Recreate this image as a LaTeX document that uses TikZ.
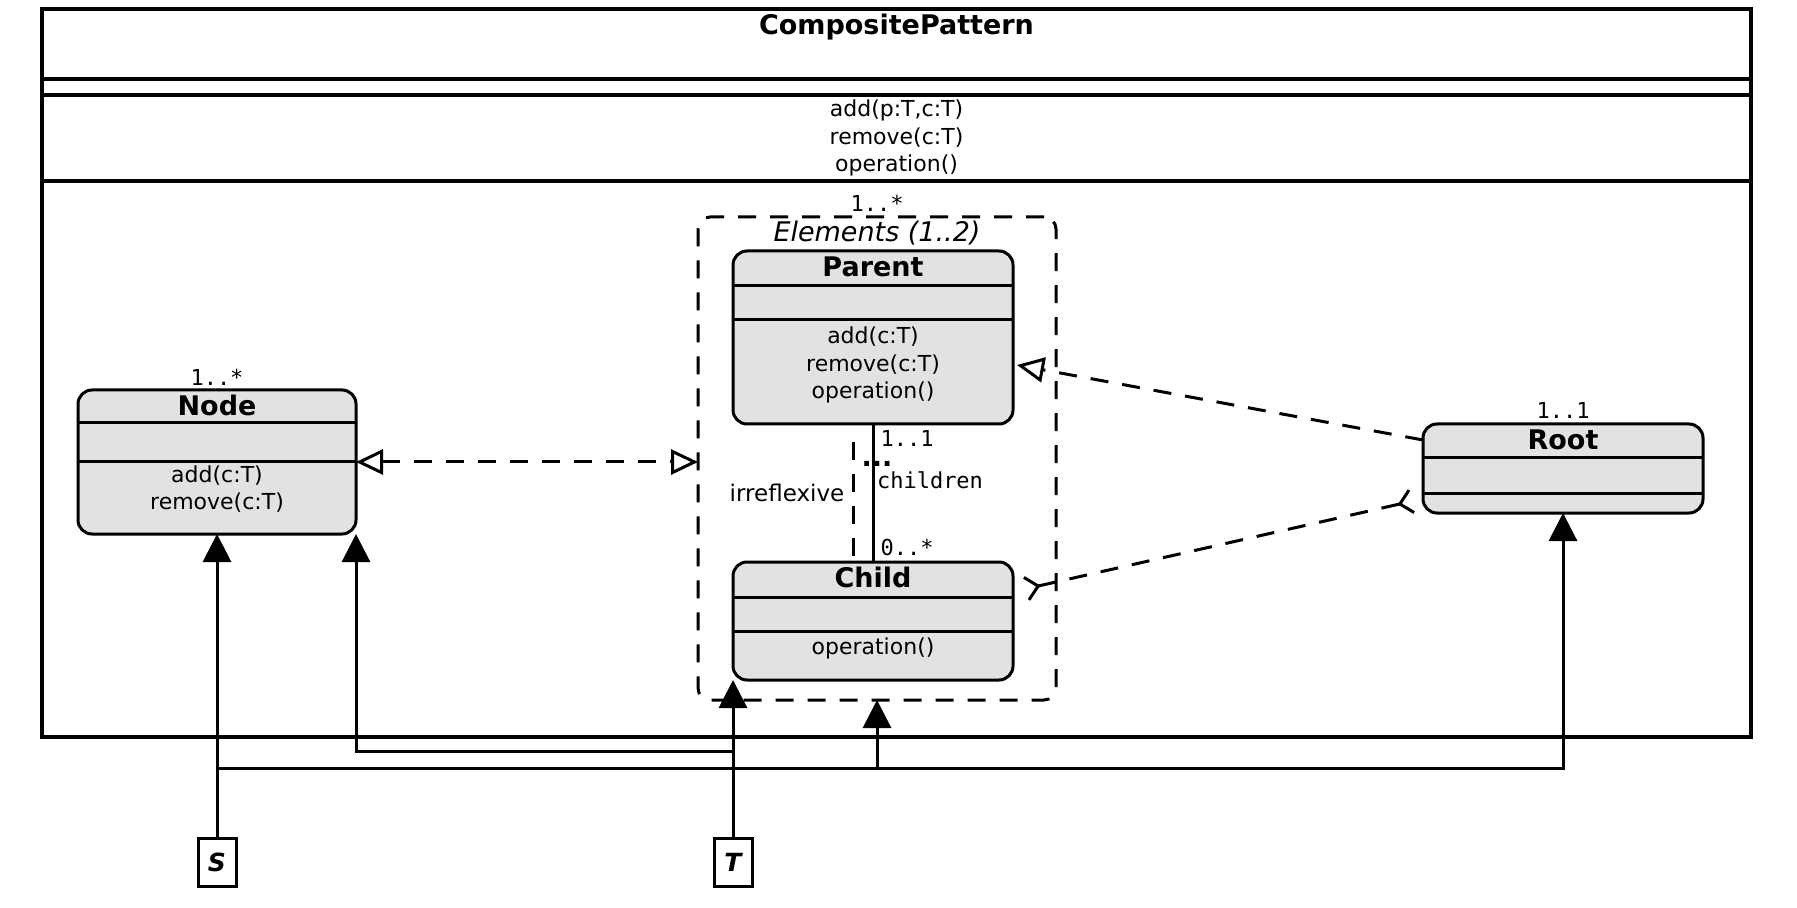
\documentclass[tikz,border=0pt]{standalone}
\usepackage{fontspec}
\setmainfont{DejaVu Sans}
\setmonofont{DejaVu Sans Mono}
\usetikzlibrary{arrows.meta}
\definecolor{classfill}{RGB}{226,226,226}
\begin{document}
\begin{tikzpicture}[x=0.5pt,y=-0.5pt,
  every node/.style={inner sep=0pt, outer sep=0pt},
  classbox/.style={draw, line width=1.5pt, fill=classfill, rounded corners=7pt},
  comp/.style={line width=1.5pt},
  ctitle/.style={font=\fontsize{13.5pt}{16pt}\selectfont\bfseries},
  meth/.style={font=\fontsize{11pt}{13.75pt}\selectfont, align=center},
  mult/.style={font=\fontsize{11pt}{13pt}\selectfont\ttfamily},
  conn/.style={line width=1.5pt},
  dashline/.style={line width=1.5pt, dash pattern=on 9pt off 7pt},
  filltip/.style={-{Triangle[length=14pt,width=14pt]}},
  opentip/.style={-{Triangle[open,length=13.5pt,width=12.5pt]}},
  bothopen/.style={{Triangle[open,length=13.5pt,width=12.5pt]}-{Triangle[open,length=13.5pt,width=12.5pt]}},
  bothbarb/.style={{Straight Barb[reversed,length=6pt,width=11.5pt]}-{Straight Barb[reversed,length=6pt,width=11.5pt]}},
  parambox/.style={draw, line width=1.5pt, fill=white, minimum width=19pt, minimum height=24pt,
    font=\fontsize{12.5pt}{15pt}\selectfont\bfseries\itshape}
]
\useasboundingbox (0,0) rectangle (1797,908);

% outer pattern frame
\node[draw, line width=1.6pt, minimum width=854.5pt, minimum height=364pt] (pattern) at (896.5,373) {};
\node[ctitle] (patternname) at (896.5,27) {CompositePattern};
\draw[line width=1.6pt] (pattern.west |- 0,79) -- (pattern.east |- 0,79);
\draw[line width=1.6pt] (pattern.west |- 0,95) -- (pattern.east |- 0,95);
\draw[line width=1.6pt] (pattern.west |- 0,181) -- (pattern.east |- 0,181);
\node[meth] (patternops) at (896.5,138) {add(p:T,c:T)\\remove(c:T)\\operation()};

% Elements group
\node[draw, dashline, rounded corners=6pt, minimum width=179pt, minimum height=241.5pt] (elements) at (877,458.5) {};
\node[mult] (elmult) at (877,203) {1..*};
\node[font=\fontsize{13.5pt}{16pt}\selectfont\itshape] (elname) at (877,233) {Elements (1..2)};

% Parent
\node[classbox, minimum width=140pt, minimum height=86.5pt] (parent) at (873,337.5) {};
\draw[comp] (parent.west |- 0,286) -- (parent.east |- 0,286);
\draw[comp] (parent.west |- 0,320) -- (parent.east |- 0,320);
\node[ctitle] (parentname) at (873,267) {Parent};
\node[meth] (parentops) at (873,365) {add(c:T)\\remove(c:T)\\operation()};

% Child
\node[classbox, minimum width=140pt, minimum height=59pt] (child) at (873,621) {};
\draw[comp] (child.west |- 0,597) -- (child.east |- 0,597);
\draw[comp] (child.west |- 0,631) -- (child.east |- 0,631);
\node[ctitle] (childname) at (873,577) {Child};
\node[meth] (childops) at (873,648) {operation()};

% Node
\node[classbox, minimum width=139pt, minimum height=72pt] (nodecls) at (217,462) {};
\draw[comp] (nodecls.west |- 0,423) -- (nodecls.east |- 0,423);
\draw[comp] (nodecls.west |- 0,462) -- (nodecls.east |- 0,462);
\node[ctitle] (nodename) at (217,405) {Node};
\node[meth] (nodeops) at (217,489) {add(c:T)\\remove(c:T)};
\node[mult] (nodemult) at (217,377) {1..*};

% Root
\node[classbox, minimum width=140pt, minimum height=44.5pt] (root) at (1563,468.5) {};
\draw[comp] (root.west |- 0,458) -- (root.east |- 0,458);
\draw[comp] (root.west |- 0,493) -- (root.east |- 0,493);
\node[ctitle] (rootname) at (1563,440) {Root};
\node[mult] (rootmult) at (1563,410) {1..1};

% Parent-Child association
\draw[conn] (parent.south) -- (child.north);
\draw[dashline] ([xshift=-10pt,yshift=-9pt]parent.south) -- ([xshift=-10pt,yshift=1pt]child.north);
\node[mult] (pm) at (907,438) {1..1};
\node[font=\fontsize{13.5pt}{16pt}\selectfont\bfseries] (dots) at (877,464) {...};
\node[mult] (assocname) at (930,480) {children};
\node[mult] (cm) at (907,547) {0..*};
\node[font=\fontsize{11.5pt}{14pt}\selectfont] (irr) at (787,493) {irreflexive};

% dashed relations
\draw[dashline, bothopen] (nodecls.east) -- (nodecls.east -| elements.west);
\draw[dashline, opentip] ([yshift=14.25pt]root.west) -- ([xshift=2pt,yshift=-13.75pt]parent.east);
\draw[dashline, bothbarb] ([xshift=6pt,yshift=16pt]child.east) -- ([xshift=-5pt,yshift=-16.25pt]root.west);

% parameters
\node[parambox] (S) at (217,862) {S};
\node[parambox] (T) at (733,862) {T};
\coordinate (sj) at (217,768);
\coordinate (tj) at (733,751);
\draw[conn, filltip] (S.north) -- (nodecls.south);
\draw[conn, filltip] (sj) -| (elements.south);
\draw[conn, filltip] (sj) -| (root.south);
\draw[conn, filltip] (T.north) -- (child.south west);
\draw[conn, filltip] (tj) -| (nodecls.south east);
\end{tikzpicture}
\end{document}
